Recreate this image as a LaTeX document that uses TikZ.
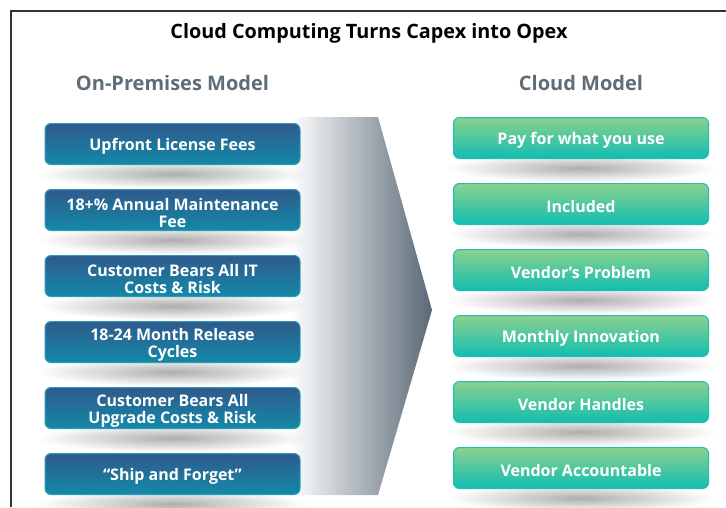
\documentclass[tikz,border=0pt]{standalone}
\usepackage{fontspec}
\setmainfont{Open Sans}
\newfontfamily\boxfont{Open Sans}
\usetikzlibrary{fadings}
\definecolor{bluetop}{HTML}{2F5A8C}
\definecolor{bluebot}{HTML}{1389A8}
\definecolor{blueedge}{HTML}{2D9BB8}
\definecolor{greentop}{HTML}{8CD18E}
\definecolor{greenbot}{HTML}{10BDB1}
\definecolor{greenedge}{HTML}{22BFB0}
\definecolor{headgray}{HTML}{5E6D77}
\definecolor{arrowdark}{HTML}{5A6976}
\tikzfading[name=shadowfade, inner color=transparent!68, outer color=transparent!100]
\tikzset{
  basebox/.style={rounded corners=6pt, minimum width=255pt, minimum height=41pt,
    line width=1pt, inner sep=0pt},
  bluebox/.style={basebox, draw=blueedge, top color=bluetop, bottom color=bluebot},
  greenbox/.style={basebox, draw=greenedge, top color=greentop, bottom color=greenbot},
  boxtext/.style={text=white, align=center, inner sep=0pt, yshift=-2.5pt,
    font=\boxfont\bfseries\fontsize{16}{17}\selectfont},
  head/.style={text=headgray, font=\boxfont\bfseries\fontsize{20}{24}\selectfont},
  titletext/.style={text=black, font=\bfseries\fontsize{19.8}{24}\selectfont},
  boxshadow/.style={fill=black, path fading=shadowfade}
}
\begin{document}
\begin{tikzpicture}[x=1pt,y=-1pt]
\useasboundingbox (0,0) rectangle (726,507);
\fill[white] (0,0) rectangle (726,507);
\draw[line width=2pt, black!80] (11,507) -- (11,11) -- (726,11);
\node[titletext] (title) at (369,33) {Cloud Computing Turns Capex into Opex};
\node[head] (h1) at (172.5,83) {On-Premises Model};
\node[head] (h2) at (581,83) {Cloud Model};
% arrow
\shade[left color=white, right color=arrowdark] (290,117) -- (378,117) -- (432,310) -- (378,495) -- (290,495) -- cycle;
% shadows
\foreach \y in {144,210,276,342,408,474} {
  \fill[boxshadow] (172.5,\y+30) ellipse [x radius=135, y radius=14];
}
\foreach \y in {138,204,270,336,402,468} {
  \fill[boxshadow] (581,\y+30) ellipse [x radius=135, y radius=14];
}
\node[bluebox, label={[boxtext]center:Upfront License Fees}] (b1) at (172.5,144) {};
\node[bluebox, label={[boxtext]center:{18+\% Annual Maintenance\\Fee}}] (b2) at (172.5,210) {};
\node[bluebox, label={[boxtext]center:{Customer Bears All IT\\Costs \& Risk}}] (b3) at (172.5,276) {};
\node[bluebox, label={[boxtext]center:{18-24 Month Release\\Cycles}}] (b4) at (172.5,342) {};
\node[bluebox, label={[boxtext]center:{Customer Bears All\\Upgrade Costs \& Risk}}] (b5) at (172.5,408) {};
\node[bluebox, label={[boxtext]center:{“Ship and Forget”}}] (b6) at (172.5,474) {};
\node[greenbox, label={[boxtext]center:Pay for what you use}] (g1) at (581,138) {};
\node[greenbox, label={[boxtext]center:Included}] (g2) at (581,204) {};
\node[greenbox, label={[boxtext]center:Vendor’s Problem}] (g3) at (581,270) {};
\node[greenbox, label={[boxtext]center:Monthly Innovation}] (g4) at (581,336) {};
\node[greenbox, label={[boxtext]center:Vendor Handles}] (g5) at (581,402) {};
\node[greenbox, label={[boxtext]center:Vendor Accountable}] (g6) at (581,468) {};
\end{tikzpicture}
\end{document}
